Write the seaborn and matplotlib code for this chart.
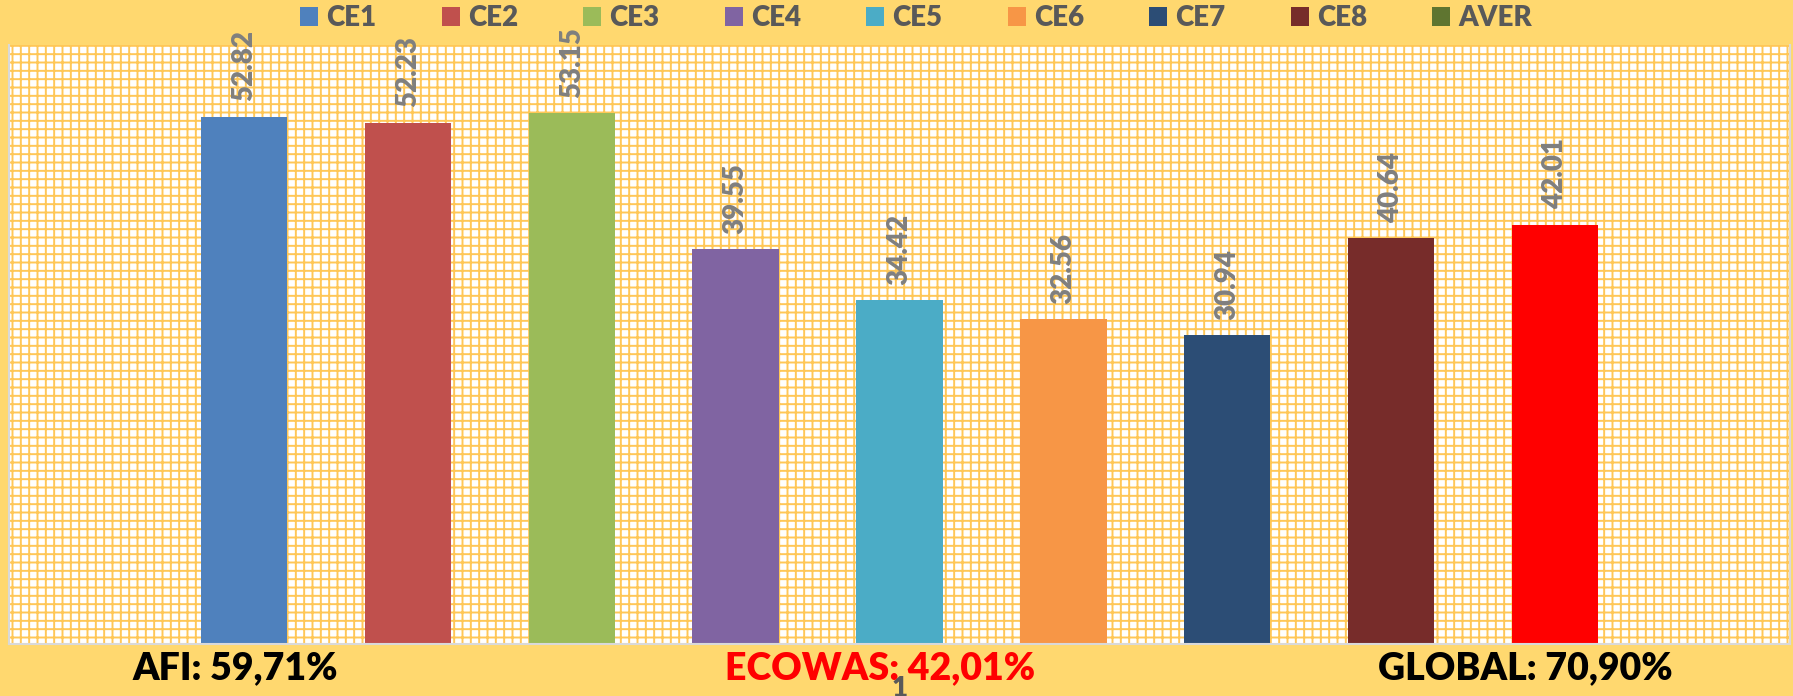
import pandas as pd
import matplotlib.pyplot as plt
import matplotlib.patches as mpatches
import seaborn as sns

# Datos del grafico
series = ['CE1', 'CE2', 'CE3', 'CE4', 'CE5', 'CE6', 'CE7', 'CE8', 'AVER']
valores = [52.82, 52.23, 53.15, 39.55, 34.42, 32.56, 30.94, 40.64, 42.01]
categoria = ['1'] * len(series)
colores_leyenda = ['#4F81BD', '#C0504D', '#9BBB59', '#8064A2', '#4BACC6',
                   '#F79646', '#2C4D75', '#772C2A', '#5F7530']
color_barra_aver = '#FF0000'
textos_pie = ['AFI: 59,71%', 'ECOWAS: 42,01%', 'GLOBAL: 70,90%']
colores_pie = ['black', '#FF0000', 'black']

df = pd.DataFrame({'cat': categoria, 'serie': series, 'valor': valores})

fondo = '#FFD86F'
naranja = '#FFC757'
peso = 'heavy'

plt.rcParams['font.family'] = ['Lato', 'DejaVu Sans']
plt.rcParams['font.weight'] = peso
plt.rcParams['hatch.color'] = naranja
plt.rcParams['hatch.linewidth'] = 1.4

fig = plt.figure(figsize=(17.93, 6.96), dpi=100, facecolor=fondo)
ax = fig.add_axes([9 / 1793, 1 - 644 / 696, 1781 / 1793, 599 / 696])
ax.set_facecolor('white')

# Trama de cuadricula del fondo
trama = mpatches.Rectangle((0, 0), 1, 1, transform=ax.transAxes, facecolor='white',
                           edgecolor=naranja, hatch='++', linewidth=0, zorder=0)
ax.add_patch(trama)

sns.barplot(data=df, x='cat', y='valor', hue='serie', palette=colores_leyenda,
            width=0.828, gap=0.473, linewidth=0, saturation=1, ax=ax, zorder=2)

ax.set_xlim(-0.5, 0.5)
ax.set_ylim(0, 60)
ax.set_xlabel('')
ax.set_ylabel('')
ax.set_yticks([])
ax.tick_params(axis='x', length=0, pad=23, labelsize=20, labelcolor='#595959')

for lado in ['left', 'right', 'bottom']:
    ax.spines[lado].set_color('#D9D9D9')
    ax.spines[lado].set_linewidth(1.5)
ax.spines['top'].set_visible(False)

# Barra AVER en rojo (la leyenda conserva el verde)
for barra in ax.containers[-1]:
    barra.set_facecolor(color_barra_aver)

for cont, v in zip(ax.containers, valores):
    ax.bar_label(cont, labels=[f'{v:.2f}'], rotation=90, padding=11,
                 fontsize=20, fontweight=peso, color='#7F7F7F')

sns.move_legend(ax, 'center', bbox_to_anchor=(0.511, 0.974), bbox_transform=fig.transFigure,
                ncol=9, frameon=False, title='', fontsize=20, handlelength=0.65,
                handleheight=0.65, handletextpad=0.3, columnspacing=2.34)
for t in ax.get_legend().get_texts():
    t.set_color('#595959')
    t.set_fontweight(peso)

# Textos inferiores
posiciones_x = [235, 880, 1525]
for txt, col, px in zip(textos_pie, colores_pie, posiciones_x):
    fig.text(px / 1793, 1 - 679 / 696, txt, ha='center', va='baseline',
             fontsize=27, fontweight=peso, color=col)

fig.savefig('out.png', dpi=100, facecolor=fondo)
